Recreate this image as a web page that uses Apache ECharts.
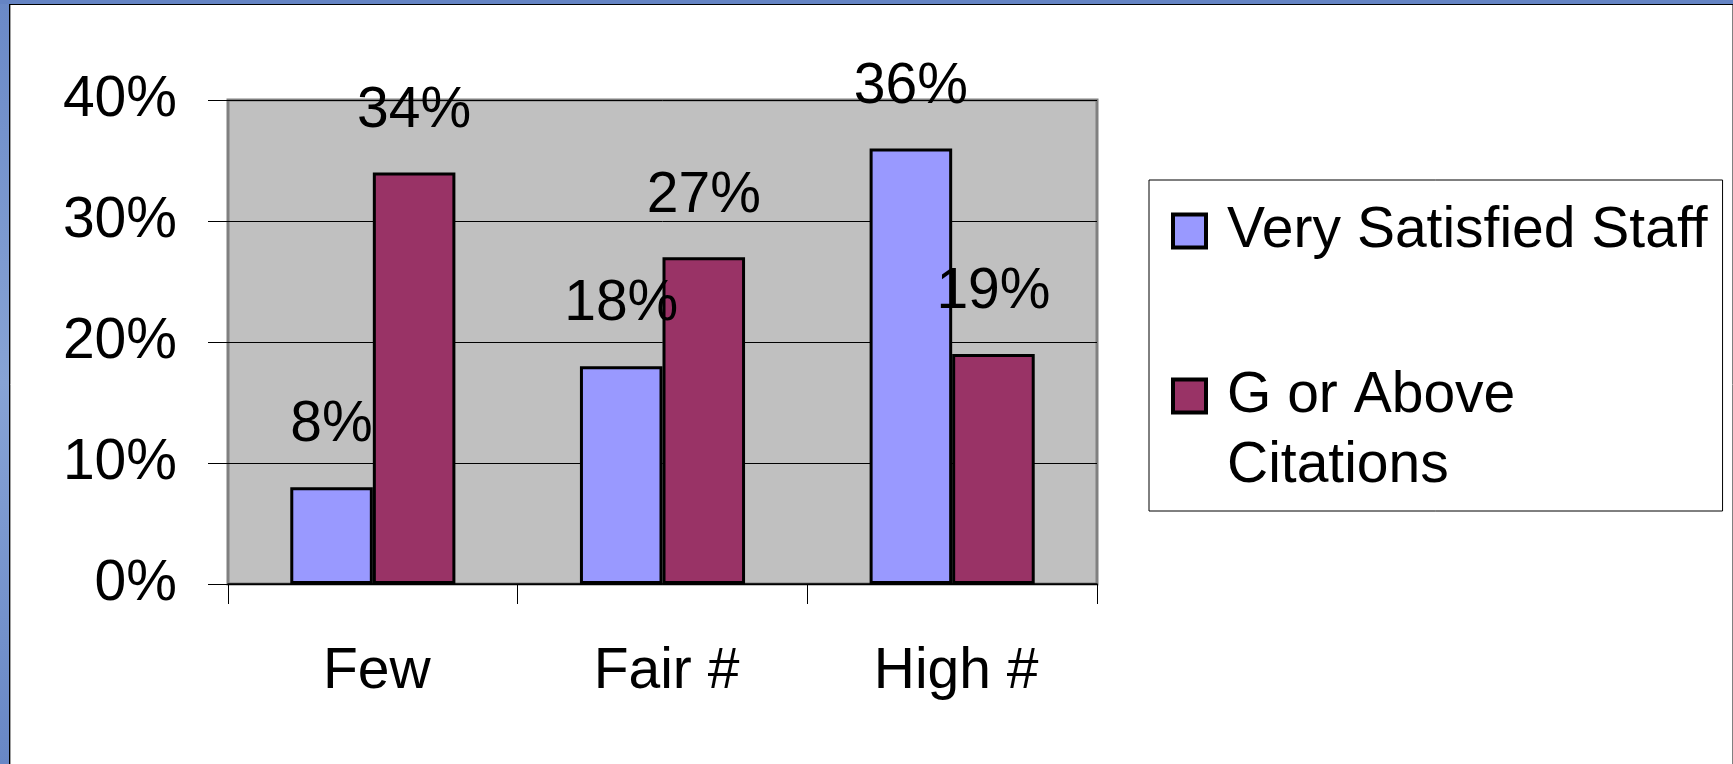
<!DOCTYPE html>
<html>
<head>
<meta charset="utf-8">
<title>Very Satisfied Staff vs G or Above Citations</title>
<script src="https://cdn.jsdelivr.net/npm/echarts@6/dist/echarts.min.js"></script>
<style>
  html, body { margin: 0; padding: 0; background: #ffffff; }
  #chart { width: 1733px; height: 764px; }
</style>
</head>
<body>
<div id="chart"></div>
<script>
// Categories along the x axis
const categories = ['Few', 'Fair #', 'High #'];

// Series values, in percent
const satisfiedStaff = [8, 18, 36];
const gOrAboveCitations = [34, 27, 19];

// Series names and the text shown for them in the legend.
// The second entry wraps onto two lines; the leading blank line keeps
// its first line level with the legend swatch.
const seriesNames = ['Very Satisfied Staff', 'G or Above Citations'];
const legendText = ['Very Satisfied Staff', ' \nG or Above\nCitations'];

// Value axis range and step
const yMin = 0;
const yMax = 40;
const yStep = 10;

const FONT = '"Liberation Sans", Arial, sans-serif';
const FONT_SIZE = 57;
const W = 1733, H = 764;

const chart = echarts.init(document.getElementById('chart'), null, { renderer: 'canvas' });

const barLabel = {
  show: true,
  position: 'top',
  distance: 33,
  color: '#000',
  fontFamily: FONT,
  fontSize: FONT_SIZE,
  formatter: '{c}%'
};

chart.setOption({
  backgroundColor: '#ffffff',
  animation: false,
  textStyle: { fontFamily: FONT },
  grid: {
    left: 228,
    top: 100,
    right: W - 1097,
    bottom: H - 584,
    show: true,
    backgroundColor: '#C0C0C0',
    borderColor: '#808080',
    borderWidth: 3,
    containLabel: false,
    outerBoundsMode: 'none'
  },
  legend: {
    orient: 'vertical',
    left: 1149,
    top: 180,
    padding: [16, 15, 10, 22],
    itemGap: 25,
    itemWidth: 33,
    itemHeight: 33,
    icon: 'rect',
    backgroundColor: '#ffffff',
    borderColor: '#000000',
    borderWidth: 1,
    borderRadius: 0,
    itemStyle: { borderColor: '#000000', borderWidth: 4 },
    textStyle: {
      color: '#000',
      fontFamily: FONT,
      fontSize: FONT_SIZE,
      lineHeight: 70,
      padding: [0, 0, 0, 16]
    },
    data: seriesNames,
    formatter: function (name) {
      return legendText[seriesNames.indexOf(name)];
    }
  },
  xAxis: {
    type: 'category',
    data: categories,
    axisLine: { show: true, lineStyle: { color: '#000', width: 1.5 } },
    axisTick: { show: true, length: 20, lineStyle: { color: '#000', width: 1 } },
    axisLabel: {
      color: '#000',
      fontFamily: FONT,
      fontSize: FONT_SIZE,
      margin: 60,
      padding: [0, 0, 0, 8]
    },
    splitLine: { show: false }
  },
  yAxis: {
    type: 'value',
    min: yMin,
    max: yMax,
    interval: yStep,
    axisLine: { show: false },
    axisTick: { show: true, length: 20, lineStyle: { color: '#000', width: 1 } },
    axisLabel: {
      color: '#000',
      fontFamily: FONT,
      fontSize: FONT_SIZE,
      margin: 51,
      formatter: '{value}%'
    },
    splitLine: { show: true, lineStyle: { color: '#000', width: 1 } }
  },
  series: [
    {
      name: seriesNames[0],
      type: 'bar',
      data: satisfiedStaff,
      barGap: '0%',
      barCategoryGap: '43%',
      itemStyle: { color: '#9999FF', borderColor: '#000', borderWidth: 3 },
      label: barLabel
    },
    {
      name: seriesNames[1],
      type: 'bar',
      data: gOrAboveCitations,
      barGap: '0%',
      barCategoryGap: '43%',
      itemStyle: { color: '#993366', borderColor: '#000', borderWidth: 3 },
      label: barLabel
    }
  ],
  graphic: [
    // slide frame: blue strips along the left and top edges
    {
      type: 'rect', silent: true, z: 100,
      shape: { x: 0, y: 0, width: 9, height: H },
      style: {
        fill: new echarts.graphic.LinearGradient(0, 0, 0, 1, [
          { offset: 0, color: '#6A89C7' },
          { offset: 0.5, color: '#87A3D5' },
          { offset: 1, color: '#6887C6' }
        ])
      }
    },
    {
      type: 'rect', silent: true, z: 100,
      shape: { x: 0, y: 0, width: W, height: 4 },
      style: { fill: '#6584C4' }
    },
    {
      type: 'line', silent: true, z: 101,
      shape: { x1: 9.5, y1: 4, x2: 9.5, y2: H },
      style: { stroke: '#000', lineWidth: 1 }
    },
    {
      type: 'line', silent: true, z: 101,
      shape: { x1: 9, y1: 4.5, x2: W, y2: 4.5 },
      style: { stroke: '#000', lineWidth: 1 }
    },
    {
      type: 'line', silent: true, z: 101,
      shape: { x1: 10.5, y1: 5, x2: 10.5, y2: H },
      style: { stroke: '#A0A0A0', lineWidth: 1 }
    },
    {
      type: 'line', silent: true, z: 101,
      shape: { x1: W - 0.5, y1: 5, x2: W - 0.5, y2: H },
      style: { stroke: '#808080', lineWidth: 1 }
    }
  ]
});
</script>
</body>
</html>
